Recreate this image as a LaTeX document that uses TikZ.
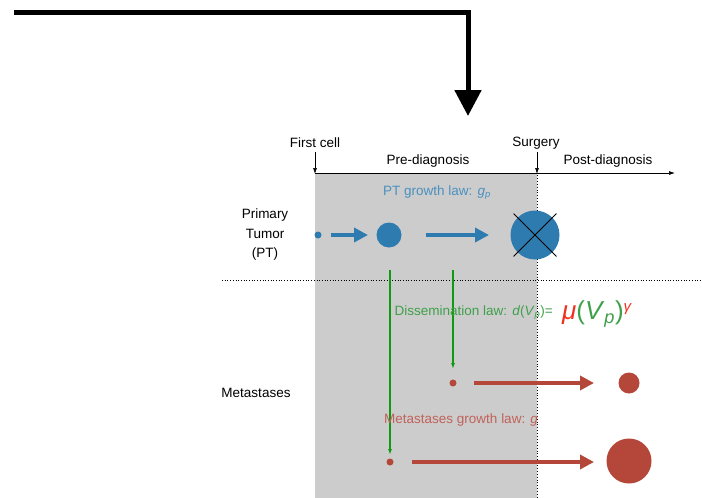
\documentclass[tikz,border=0pt]{standalone}
\usepackage{fontspec}
\setmainfont{Liberation Sans}
\usetikzlibrary{arrows.meta}
\definecolor{ptblue}{HTML}{2E7BB0}
\definecolor{ptbluetxt}{HTML}{4A90C0}
\definecolor{metred}{HTML}{B5463A}
\definecolor{metredtxt}{HTML}{C0625A}
\definecolor{disgreen}{HTML}{3FA04A}
\definecolor{linegreen}{HTML}{109A10}
\definecolor{shadegray}{HTML}{CCCCCC}
\definecolor{mured}{HTML}{F0301E}
\begin{document}
\begin{tikzpicture}[x=1pt,y=-1pt,
  lbl/.style={font=\fontsize{13.5}{15}\selectfont, inner sep=0pt},
  bigarrow/.style={line width=4pt, -{Triangle[length=14pt,width=14pt]}},
  thin arrow/.style={line width=0.7pt, -{Latex[length=6pt,width=4pt]}},
  garrow/.style={linegreen, line width=1.2pt, -{Latex[length=6pt,width=4pt]}},
  dot/.style={circle, inner sep=0pt, draw=none}]
\useasboundingbox (0,0) rectangle (702,498);
% shaded pre-diagnosis region
\fill[shadegray] (315,173) rectangle (537,498);
% top bent arrow
\coordinate (ts) at (14,12);
\coordinate (tc) at (468,12);
\coordinate (te) at (468,116);
\draw[line width=5pt, -{Triangle[length=26pt,width=26pt]}] (ts) -- (tc) -- (te);
% timeline
\coordinate (t0) at (315,173);
\coordinate (t1) at (675,173);
\draw[thin arrow] (t0) -- (t1);
\node[lbl] (first) at (315,143) {First cell};
\node[lbl] (surg) at (536,143) {Surgery};
\coordinate (fa) at (315,152);
\coordinate (sa) at (537,152);
\coordinate (fb) at (315,174);
\coordinate (sb) at (537,174);
\draw[thin arrow] (fa) -- (fb);
\draw[thin arrow] (sa) -- (sb);
\node[lbl] (pre) at (428,161) {Pre-diagnosis};
\node[lbl] (post) at (608,161) {Post-diagnosis};
% dotted separators
\coordinate (v0) at (537,175);
\coordinate (v1) at (537,498);
\draw[dotted, line width=0.9pt] (v0) -- (v1);
\coordinate (h0) at (222,280);
\coordinate (h1) at (702,280);
\draw[dotted, line width=0.7pt] (h0) -- (h1);
% labels
\node[lbl, align=center, font=\fontsize{13.5}{19.5}\selectfont] (pt) at (265,235) {Primary\\Tumor\\(PT)};
\node[lbl] (met) at (256,393) {Metastases};
\node[lbl, text=ptbluetxt] (ptlaw) at (437,193) {PT growth law: \textit{g}\textsubscript{\textit{p}}};
% primary tumor
\node[dot, fill=ptblue, minimum size=7pt] (p1) at (318,235) {};
\node[dot, fill=ptblue, minimum size=25pt] (p2) at (389,235) {};
\node[dot, fill=ptblue, minimum size=49pt] (p3) at (535,235) {};
\coordinate (a1s) at (331,235); \coordinate (a1e) at (368,235);
\coordinate (a2s) at (426,235); \coordinate (a2e) at (489,235);
\draw[bigarrow, ptblue] (a1s) -- (a1e);
\draw[bigarrow, ptblue] (a2s) -- (a2e);
\path (p3.north west) ++(-4,-4) coordinate (x1) (p3.south east) ++(4,4) coordinate (x2);
\draw[line width=0.8pt] (x1) -- (x2);
\path (p3.north east) ++(4,-4) coordinate (x3) (p3.south west) ++(-4,4) coordinate (x4);
\draw[line width=0.8pt] (x3) -- (x4);
% dissemination
\coordinate (g1s) at (390,270); \coordinate (g1e) at (390,455);
\coordinate (g2s) at (453,270); \coordinate (g2e) at (453,369);
\draw[garrow] (g1s) -- (g1e);
\draw[garrow] (g2s) -- (g2e);
\node[lbl, text=disgreen, anchor=east] (dlaw) at (553,313) {Dissemination law: \textit{d}(\textit{V}\textsubscript{\textit{p}})=};
\node[inner sep=0pt, anchor=west, font=\fontsize{26}{28}\selectfont] (mu) at (562,314)
  {\textcolor{mured}{\textit{μ}}\textcolor{disgreen}{(\textit{V}\textsubscript{\textit{p}})}\textcolor{mured}{\raisebox{0.6ex}{\fontsize{15}{16}\selectfont\textit{γ}}}};
% metastases
\node[dot, fill=metred, minimum size=7pt] (m1) at (453,383) {};
\node[dot, fill=metred, minimum size=21pt] (m2) at (629,383) {};
\node[dot, fill=metred, minimum size=7pt] (m3) at (390,462) {};
\node[dot, fill=metred, minimum size=45pt] (m4) at (629,461) {};
\coordinate (r1s) at (474,383); \coordinate (r1e) at (594,383);
\coordinate (r2s) at (412,462); \coordinate (r2e) at (594,462);
\draw[bigarrow, metred] (r1s) -- (r1e);
\draw[bigarrow, metred] (r2s) -- (r2e);
\node[lbl, text=metredtxt] (mlaw) at (461,420) {Metastases growth law: \textit{g}};
\end{tikzpicture}
\end{document}
